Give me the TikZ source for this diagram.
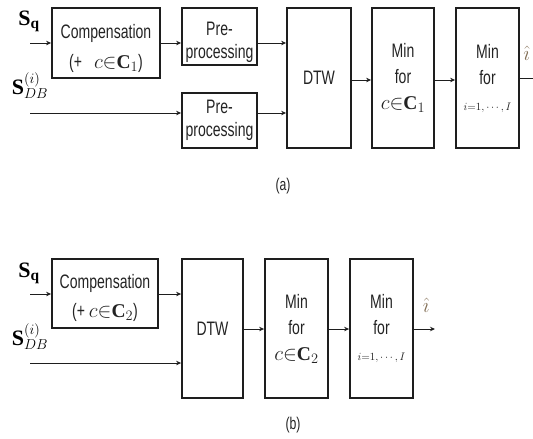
\documentclass[tikz,border=0pt]{standalone}
\usepackage{fontspec}
\setmainfont{Liberation Serif}
\setsansfont[FakeStretch=0.72]{Liberation Sans}
\usetikzlibrary{arrows.meta,calc}
\definecolor{ink}{RGB}{30,30,30}
\definecolor{txt}{RGB}{35,35,35}
\definecolor{hatc}{RGB}{130,110,85}
\tikzset{
  box/.style={draw=ink, line width=1.8pt, inner sep=0pt, align=center,
    text=txt, font=\sffamily\fontsize{19.5}{22}\selectfont},
  lbl/.style={inner sep=0pt, align=center, text=txt,
    font=\sffamily\fontsize{19.5}{22}\selectfont},
  arr/.style={draw=ink, line width=0.9pt, -{Stealth[length=5pt,width=4.5pt]}},
  ln/.style={draw=ink, line width=0.9pt},
  sig/.style={inner sep=0pt, text=black, font=\fontsize{22}{26}\selectfont},
  captext/.style={inner sep=0pt, text=txt, font=\sffamily\fontsize{17}{20}\selectfont}
}
\begin{document}
\begin{tikzpicture}[x=1pt,y=-1pt]
\useasboundingbox (0,0) rectangle (533,439);
% ---------- (a) ----------
\node[sig] (sq1) at (29,21) {\textbf{S}$_{\mathbf{q}}$};
\node[sig] (sdb1) at (30,86) {\textbf{S}$_{DB}^{(i)}$};
\node[box, minimum width=108pt, minimum height=70pt] (comp1) at (106,43) {};
\node[lbl] (comp1t) at (106,48) {Compensation\\[8pt](+\hspace{12pt}$c{\in}\mathbf{C}_1$)};
\node[box, minimum width=75pt, minimum height=57pt] (pre1) at (219.5,36.5) {};
\node[lbl] (pre1t) at (219.5,42) {Pre-\\[1pt]processing};
\node[box, minimum width=75pt, minimum height=55pt] (pre2) at (219.5,120.5) {Pre-\\[1pt]processing};
\node[box, minimum width=64pt, minimum height=140pt] (dtw1) at (319,78) {DTW};
\node[box, minimum width=62pt, minimum height=140pt] (minc1) at (403,78) {Min\\[4pt]for\\[4pt]$c{\in}\mathbf{C}_1$};
\node[box, minimum width=63pt, minimum height=140pt] (mini1) at (487.5,78) {Min\\[4pt]for\\[4pt]{\fontsize{11}{13}\selectfont$i{=}1,\cdots,I$}};
\coordinate (in1) at (30,43);
\coordinate (in2) at (30,113);
\coordinate (out1) at (533,78);
\draw[arr] (in1) -- (comp1.west |- in1);
\draw[arr] (comp1.east |- in1) -- (pre1.west |- in1);
\draw[arr] (in2) -- (pre2.west |- in2);
\draw[arr] (pre1.east |- in1) -- (dtw1.west |- in1);
\draw[arr] (pre2.east |- in2) -- (dtw1.west |- in2);
\draw[arr] (dtw1.east |- 0,80) -- (minc1.west |- 0,80);
\draw[arr] (minc1.east |- 0,80) -- (mini1.west |- 0,80);
\draw[ln] (mini1.east) -- (out1);
\node[sig, text=hatc, anchor=east] (ihat1) at (530,53) {$\hat{\imath}$};
\node[captext] (capa) at (283,186) {(a)};
% ---------- (b) ----------
\node[sig] (sq2) at (29,273) {\textbf{S}$_{\mathbf{q}}$};
\node[sig] (sdb2) at (30,337) {\textbf{S}$_{DB}^{(i)}$};
\node[box, minimum width=106pt, minimum height=69pt] (comp2) at (105,293.5) {};
\node[lbl] (comp2t) at (105,298) {Compensation\\[7pt](+ $c{\in}\mathbf{C}_2$)};
\node[box, minimum width=61pt, minimum height=139pt] (dtw2) at (212.5,328.5) {DTW};
\node[box, minimum width=63pt, minimum height=139pt] (minc2) at (296.5,328.5) {Min\\[4pt]for\\[4pt]$c{\in}\mathbf{C}_2$};
\node[box, minimum width=63pt, minimum height=139pt] (mini2) at (381.5,328.5) {Min\\[4pt]for\\[4pt]{\fontsize{11}{13}\selectfont$i{=}1,\cdots,I$}};
\coordinate (in3) at (30,294);
\coordinate (in4) at (30,363);
\coordinate (out2) at (435,329);
\draw[arr] (in3) -- (comp2.west |- in3);
\draw[arr] (comp2.east |- in3) -- (dtw2.west |- in3);
\draw[arr] (in4) -- (dtw2.west |- in4);
\draw[arr] (dtw2.east |- out2) -- (minc2.west |- out2);
\draw[arr] (minc2.east |- out2) -- (mini2.west |- out2);
\draw[arr] (mini2.east |- out2) -- (out2);
\node[sig, text=hatc] (ihat2) at (426,305) {$\hat{\imath}$};
\node[captext] (capb) at (293,425) {(b)};
\end{tikzpicture}
\end{document}
